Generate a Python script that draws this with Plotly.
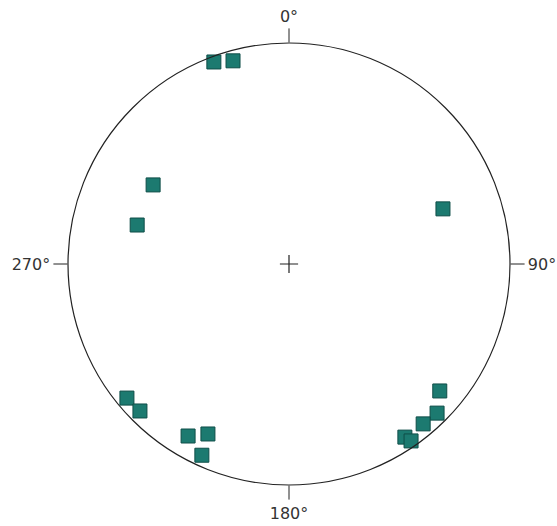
import numpy as np
import plotly.graph_objects as go

# Trend (azimuth, deg) and plunge (deg) of the poles, equal-area lower hemisphere
trend = [339.6, 344.6, 300.2, 284.4, 70.3, 230.4, 225.4, 210.4, 205.5, 204.5,
         130.1, 135.2, 140.0, 146.2, 145.4]
plunge = [2.8, 5.2, 29.6, 29.8, 26.9, 5.4, 5.9, 10.7, 15.9, 5.5,
          11.8, 5.5, 6.2, 6.4, 3.1]

tick_vals = [0, 90, 180, 270]
tick_text = ["0°", "90°", "180°", "270°"]

# Equal-area (Schmidt) projection radius, normalised to 1 at the primitive
r = [np.sqrt(2) * np.sin(np.radians(90 - p) / 2) for p in plunge]

fig = go.Figure()
fig.add_trace(go.Scatterpolar(
    r=r, theta=trend, mode="markers",
    marker=dict(symbol="square", size=14, color="#1c7a70",
                line=dict(color="#0f4e48", width=1)),
    hoverinfo="skip", showlegend=False,
))
fig.add_trace(go.Scatterpolar(
    r=[0], theta=[0], mode="markers",
    marker=dict(symbol="cross-thin", size=13, line=dict(color="#222222", width=1.2)),
    hoverinfo="skip", showlegend=False,
))

fig.update_layout(
    width=557, height=526, autosize=False,
    margin=dict(l=68, r=47, t=43, b=41),
    paper_bgcolor="white", plot_bgcolor="white",
    font=dict(family="DejaVu Sans", size=16, color="#333333"),
    polar=dict(
        bgcolor="white",
        domain=dict(x=[0, 1], y=[0, 1]),
        radialaxis=dict(range=[0, 1], visible=False, showgrid=False),
        angularaxis=dict(
            rotation=90, direction="clockwise",
            tickmode="array", tickvals=tick_vals, ticktext=tick_text,
            ticks="outside", ticklen=14, tickcolor="#222222", tickwidth=1.2,
            showgrid=False, showline=True, linecolor="#222222", linewidth=1.2,
            tickfont=dict(family="DejaVu Sans", size=16, color="#333333"),
        ),
    ),
)

fig.write_html(
    "out.html",
    config={"displayModeBar": False},
    post_script="document.body.style.margin='0';document.body.style.overflow='hidden';",
)
